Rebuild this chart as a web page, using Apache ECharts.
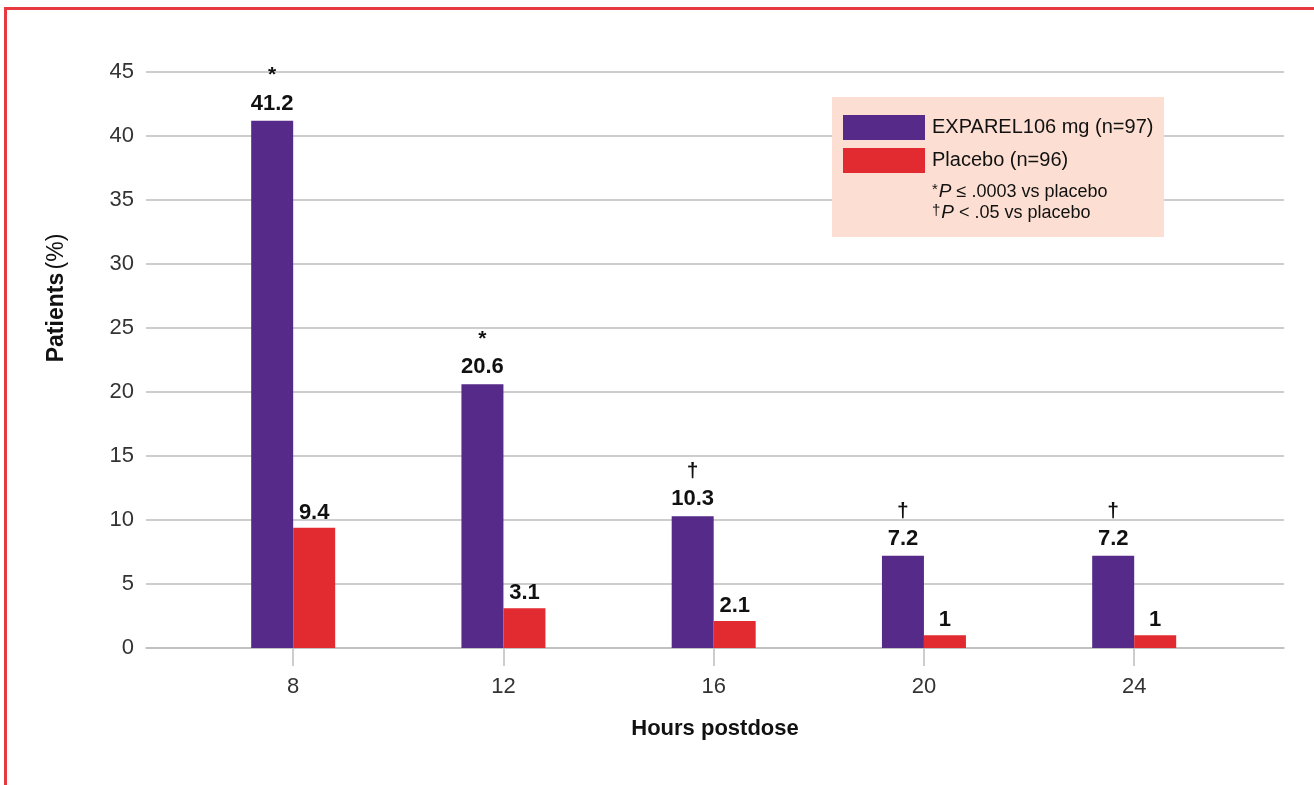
<!DOCTYPE html>
<html>
<head>
<meta charset="utf-8">
<title>Patients (%) by hours postdose</title>
<script src="https://cdn.jsdelivr.net/npm/echarts@6/dist/echarts.min.js"></script>
<style>
  html, body { margin: 0; padding: 0; background: #ffffff; }
  #wrap { position: relative; width: 1314px; height: 785px; overflow: hidden; }
  #frame {
    position: absolute; left: 4px; top: 7px; width: 1400px; height: 900px;
    border-top: 3px solid #e63a40; border-left: 3px solid #e63a40;
    box-sizing: border-box;
  }
  #chart { position: absolute; left: 0; top: 0; width: 1314px; height: 785px; }
</style>
</head>
<body>
<div id="wrap">
  <div id="frame"></div>
  <div id="chart"></div>
</div>
<script>
// Hours after dosing (x positions of each bar pair)
const hours = [8, 12, 16, 20, 24];
// Share of patients (%) per time point
const exparelValues = [41.2, 20.6, 10.3, 7.2, 7.2];
const placeboValues = [9.4, 3.1, 2.1, 1, 1];
// Significance markers drawn above the EXPAREL bars
const exparelMarks = ['*', '*', '\u2020', '\u2020', '\u2020'];
// Y-axis tick range
const yTicks = { min: 0, max: 45, interval: 5 };

const seriesNames = ['EXPAREL106 mg (n=97)', 'Placebo (n=96)'];
const footnotes = [
  ['*', 'P', ' \u2264 .0003 vs placebo'],
  ['\u2020', 'P', ' < .05 vs placebo']
];

const FONT = '"Liberation Sans", Arial, Helvetica, sans-serif';
const PURPLE = '#552a88';
const RED = '#e22a31';
const GRID = '#bdbdbd';

const chart = echarts.init(document.getElementById('chart'), null, { renderer: 'canvas' });

function pairs(vals) {
  return vals.map((v, i) => [hours[i], v]);
}

const valueLabel = {
  show: true,
  position: 'top',
  distance: 4,
  color: '#111',
  fontFamily: FONT,
  fontSize: 22,
  fontWeight: 'bold'
};

const option = {
  backgroundColor: 'transparent',
  animation: false,
  textStyle: { fontFamily: FONT },
  grid: { left: 146, right: 30, top: 72, bottom: 137, containLabel: false },
  xAxis: {
    type: 'value',
    min: 5.2,
    max: 26.85,
    name: 'Hours postdose',
    nameLocation: 'middle',
    nameGap: 70,
    nameTextStyle: { fontFamily: FONT, fontSize: 22, fontWeight: 'bold', color: '#111' },
    splitLine: { show: false },
    axisLine: { show: true, lineStyle: { color: GRID, width: 1.5 } },
    axisTick: { show: true, length: 18, customValues: hours, lineStyle: { color: GRID, width: 1.5 } },
    axisLabel: {
      customValues: hours,
      margin: 28,
      fontFamily: FONT,
      fontSize: 22,
      color: '#333'
    }
  },
  yAxis: {
    type: 'value',
    min: yTicks.min,
    max: yTicks.max,
    interval: yTicks.interval,
    axisLine: { show: false },
    axisTick: { show: false },
    splitLine: { show: true, lineStyle: { color: GRID, width: 1.5 } },
    axisLabel: { margin: 12, fontFamily: FONT, fontSize: 22, color: '#333' }
  },
  legend: {
    data: seriesNames,
    orient: 'vertical',
    left: 843,
    top: 115,
    padding: 0,
    itemWidth: 82,
    itemHeight: 25,
    itemGap: 8,
    icon: 'rect',
    selectedMode: false,
    z: 20,
    textStyle: { fontFamily: FONT, fontSize: 20, color: '#111', padding: [0, 0, 0, 2] }
  },
  graphic: [
    {
      type: 'rect',
      z: 10,
      shape: { x: 832, y: 97, width: 332, height: 140 },
      style: { fill: '#fcdfd2' }
    },
    ...footnotes.map((f, i) => ({
      type: 'text',
      z: 21,
      left: 932,
      top: 182 + i * 21,
      style: {
        text: '{s|' + f[0] + '}{i|' + f[1] + '}{n|' + f[2] + '}',
        fontFamily: FONT,
        rich: {
          s: { fontSize: 15, fontFamily: FONT, fill: '#111', verticalAlign: 'top', padding: [0, 1, 5, 0] },
          i: { fontSize: 19, fontFamily: FONT, fontStyle: 'italic', fill: '#111' },
          n: { fontSize: 18, fontFamily: FONT, fill: '#111' }
        }
      }
    })),
    {
      type: 'text',
      z: 21,
      x: 57,
      y: 298,
      rotation: Math.PI / 2,
      style: {
        text: '{b|Patients} {r|(%)}',
        align: 'center',
        verticalAlign: 'middle',
        rich: {
          b: { fontSize: 23, fontFamily: FONT, fontWeight: 'bold', fill: '#111' },
          r: { fontSize: 23, fontFamily: FONT, fill: '#111' }
        }
      }
    }
  ],
  series: [
    {
      name: seriesNames[0],
      type: 'bar',
      barWidth: 42,
      barGap: '0%',
      z: 5,
      itemStyle: { color: PURPLE },
      data: pairs(exparelValues),
      label: Object.assign({}, valueLabel, {
        formatter: p => '{m|' + exparelMarks[p.dataIndex] + '}\n{v|' + exparelValues[p.dataIndex] + '}',
        rich: {
          m: { fontSize: 21, fontFamily: FONT, color: '#111', lineHeight: 30 },
          v: { fontSize: 22, fontFamily: FONT, fontWeight: 'bold', color: '#111', lineHeight: 26 }
        }
      })
    },
    {
      name: seriesNames[1],
      type: 'bar',
      barWidth: 42,
      barGap: '0%',
      z: 5,
      itemStyle: { color: RED },
      data: pairs(placeboValues),
      label: Object.assign({}, valueLabel, {
        formatter: p => String(placeboValues[p.dataIndex])
      })
    }
  ]
};

chart.setOption(option);
</script>
</body>
</html>
